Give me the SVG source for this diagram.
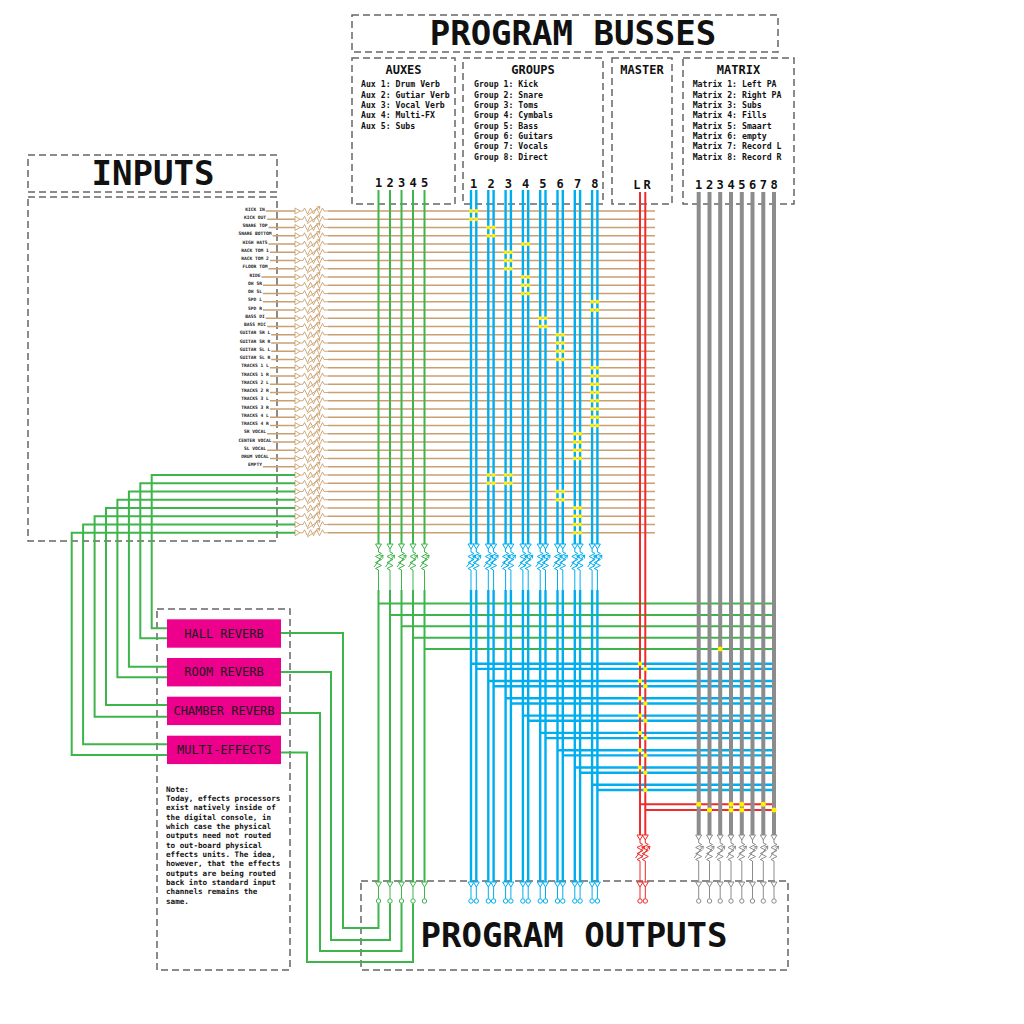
<svg xmlns="http://www.w3.org/2000/svg" xmlns:xlink="http://www.w3.org/1999/xlink" width="1024" height="1024" viewBox="0 0 1024 1024">
<style>
.box{fill:none;stroke:#666;stroke-width:1.5;stroke-dasharray:7 4}
.t{font-family:'DejaVu Sans Mono','Liberation Mono',monospace;fill:#111}
.big{font-size:34px;font-weight:bold;text-anchor:middle}
.hd{font-size:12px;font-weight:bold;text-anchor:middle}
.num{font-size:12px;font-weight:bold;text-anchor:middle}
.lst{font-size:8.2px;font-weight:bold}
.lbl{font-size:4.6px;font-weight:bold;text-anchor:middle;fill:#222}
.fx{fill:#ec008c}
.fxt{font-size:12px;text-anchor:middle;fill:#1a1a1a}
.note{font-size:7.6px;font-weight:bold}
.g{fill:none;stroke:#3db54a;stroke-width:2}
.b{fill:none;stroke:#00adef;stroke-width:2.4}
.r{fill:none;stroke:#ee2a2a;stroke-width:2}
.k{fill:none;stroke:#8c8c8c;stroke-width:4}
.thin{stroke-width:1}
.tan{fill:none;stroke:#c9a06f;stroke-width:1.3}
.dot{fill:#ffef00}
</style>
<defs>
<g id="hf" fill="none" stroke="#c9a06f" stroke-width="0.9">
<path d="M0,-3 V3 L5,0 Z" fill="#fff"/>
<path d="M5,0 H8 L9.5,-3 L12.5,3 L15.5,-3 L18.5,3 L21.5,-3 L24.5,3 L27.5,-3 L29,0 H33"/>
<path d="M12,4.5 L25,-4.5 M25,-4.5 l-3.5,0.6 M25,-4.5 l-1,3.2"/>
</g>
<g id="vf" fill="none" stroke="currentColor" stroke-width="1">
<path d="M-3,0 H3 L0,5 Z" fill="#fff"/>
<path d="M0,5 V8 L3,9.5 L-3,12.5 L3,15.5 L-3,18.5 L3,21.5 L-3,24.5 L0,26 V30"/>
<path d="M-4.5,23 L4.5,11 M4.5,11 l-3.4,1.2 M4.5,11 l-0.3,3.5"/>
</g>
<g id="ot" fill="none" stroke="currentColor" stroke-width="1">
<path d="M-3,0 H3 L0,5 Z" fill="#fff"/>
<path d="M0,5 V16.8"/>
<circle cy="19" r="2.2" fill="#fff"/>
</g>
</defs>
<rect width="1024" height="1024" fill="#fff"/>

<g id="inputs">
<rect class="box" x="28" y="155" width="249" height="37"/>
<text class="t big" x="153" y="185">INPUTS</text>
<rect class="box" x="28" y="197" width="249" height="344"/>
<g class="t lbl">
<text x="255" y="210.5">KICK IN</text>
<text x="255" y="218.75">KICK OUT</text>
<text x="255" y="227">SNARE TOP</text>
<text x="255" y="235.25">SNARE BOTTOM</text>
<text x="255" y="243.5">HIGH HATS</text>
<text x="255" y="251.75">RACK TOM 1</text>
<text x="255" y="260">RACK TOM 2</text>
<text x="255" y="268.25">FLOOR TOM</text>
<text x="255" y="276.5">RIDE</text>
<text x="255" y="284.75">OH SR</text>
<text x="255" y="293">OH SL</text>
<text x="255" y="301.25">SPD L</text>
<text x="255" y="309.5">SPD R</text>
<text x="255" y="317.75">BASS DI</text>
<text x="255" y="326">BASS MIC</text>
<text x="255" y="334.25">GUITAR SR L</text>
<text x="255" y="342.5">GUITAR SR R</text>
<text x="255" y="350.75">GUITAR SL L</text>
<text x="255" y="359">GUITAR SL R</text>
<text x="255" y="367.25">TRACKS 1 L</text>
<text x="255" y="375.5">TRACKS 1 R</text>
<text x="255" y="383.75">TRACKS 2 L</text>
<text x="255" y="392">TRACKS 2 R</text>
<text x="255" y="400.25">TRACKS 3 L</text>
<text x="255" y="408.5">TRACKS 3 R</text>
<text x="255" y="416.75">TRACKS 4 L</text>
<text x="255" y="425">TRACKS 4 R</text>
<text x="255" y="433.25">SR VOCAL</text>
<text x="255" y="441.5">CENTER VOCAL</text>
<text x="255" y="449.75">SL VOCAL</text>
<text x="255" y="458">DRUM VOCAL</text>
<text x="255" y="466.25">EMPTY</text>
</g>
</g>

<g id="program-busses">
<rect class="box" x="352" y="15" width="426" height="37"/>
<text class="t big" x="573" y="45">PROGRAM BUSSES</text>
</g>

<g id="auxes">
<rect class="box" x="352" y="58" width="103" height="146"/>
<text class="t hd" x="403.5" y="74">AUXES</text>
<g class="t lst">
<text x="361" y="87.3">Aux 1: Drum Verb</text>
<text x="361" y="97.6">Aux 2: Gutiar Verb</text>
<text x="361" y="108">Aux 3: Vocal Verb</text>
<text x="361" y="118.3">Aux 4: Multi-FX</text>
<text x="361" y="128.6">Aux 5: Subs</text>
</g>
<g class="t num">
<text x="378.5" y="187">1</text><text x="390" y="187">2</text><text x="401.5" y="187">3</text><text x="413" y="187">4</text><text x="424.5" y="187">5</text>
</g>
</g>

<g id="groups">
<rect class="box" x="463" y="58" width="140" height="146"/>
<text class="t hd" x="533" y="74">GROUPS</text>
<g class="t lst">
<text x="474" y="87.3">Group 1: Kick</text>
<text x="474" y="97.6">Group 2: Snare</text>
<text x="474" y="108">Group 3: Toms</text>
<text x="474" y="118.3">Group 4: Cymbals</text>
<text x="474" y="128.6">Group 5: Bass</text>
<text x="474" y="139">Group 6: Guitars</text>
<text x="474" y="149.3">Group 7: Vocals</text>
<text x="474" y="159.6">Group 8: Direct</text>
</g>
<g class="t num">
<text x="473.6" y="188">1</text><text x="491" y="188">2</text><text x="508.3" y="188">3</text><text x="525.6" y="188">4</text><text x="542.9" y="188">5</text><text x="560.2" y="188">6</text><text x="577.5" y="188">7</text><text x="594.8" y="188">8</text>
</g>
</g>

<g id="master">
<rect class="box" x="612" y="58" width="60" height="146"/>
<text class="t hd" x="642" y="74">MASTER</text>
<text class="t num" x="636.8" y="189">L</text>
<text class="t num" x="647" y="189">R</text>
</g>

<g id="matrix">
<rect class="box" x="683" y="58" width="111" height="146"/>
<text class="t hd" x="738.5" y="74">MATRIX</text>
<g class="t lst">
<text x="692.7" y="87.3">Matrix 1: Left PA</text>
<text x="692.7" y="97.6">Matrix 2: Right PA</text>
<text x="692.7" y="108">Matrix 3: Subs</text>
<text x="692.7" y="118.3">Matrix 4: Fills</text>
<text x="692.7" y="128.6">Matrix 5: Smaart</text>
<text x="692.7" y="139">Matrix 6: empty</text>
<text x="692.7" y="149.3">Matrix 7: Record L</text>
<text x="692.7" y="159.6">Matrix 8: Record R</text>
</g>
<g class="t num">
<text x="698.7" y="189">1</text><text x="709.5" y="189">2</text><text x="720.2" y="189">3</text><text x="731" y="189">4</text><text x="741.8" y="189">5</text><text x="752.5" y="189">6</text><text x="763.3" y="189">7</text><text x="774" y="189">8</text>
</g>
</g>

<g id="program-outputs">
<rect class="box" x="361" y="881" width="427" height="89"/>
<text class="t big" x="574" y="947">PROGRAM OUTPUTS</text>
</g>

<g id="effects">
<rect class="box" x="157" y="609" width="133" height="361"/>
<g id="hall-reverb"><rect class="fx" x="167" y="619.3" width="114" height="28.4"/><text class="t fxt" x="224" y="637.5">HALL REVERB</text></g>
<g id="room-reverb"><rect class="fx" x="167" y="658" width="114" height="28.4"/><text class="t fxt" x="224" y="676.2">ROOM REVERB</text></g>
<g id="chamber-reverb"><rect class="fx" x="167" y="696.7" width="114" height="28.4"/><text class="t fxt" x="224" y="714.9">CHAMBER REVERB</text></g>
<g id="multi-effects"><rect class="fx" x="167" y="735.7" width="114" height="28.4"/><text class="t fxt" x="224" y="753.9">MULTI-EFFECTS</text></g>
<g id="note" class="t note">
<text x="166" y="791.7">Note:</text>
<text x="166" y="801">Today, effects processors</text>
<text x="166" y="810.3">exist natively inside of</text>
<text x="166" y="819.7">the digital console, in</text>
<text x="166" y="829">which case the physical</text>
<text x="166" y="838.3">outputs need not routed</text>
<text x="166" y="847.7">to out-board physical</text>
<text x="166" y="857">effects units. The idea,</text>
<text x="166" y="866.3">however, that the effects</text>
<text x="166" y="875.7">outputs are being routed</text>
<text x="166" y="885">back into standard input</text>
<text x="166" y="894.3">channels remains the</text>
<text x="166" y="903.7">same.</text>
</g>
</g>

<g id="connectors">
<path class="tan" stroke-width="0.9" d="M265.7,211H295M267.1,219.25H295M268.5,227.5H295M272.6,235.75H295M268.5,244H295M269.9,252.25H295M269.9,260.5H295M268.5,268.75H295M261.5,277H295M262.9,285.25H295M262.9,293.5H295M262.9,301.75H295M262.9,310H295M265.7,318.25H295M267.1,326.5H295M271.2,334.75H295M271.2,343H295M271.2,351.25H295M271.2,359.5H295M269.9,367.75H295M269.9,376H295M269.9,384.25H295M269.9,392.5H295M269.9,400.75H295M269.9,409H295M269.9,417.25H295M269.9,425.5H295M267.1,433.75H295M272.6,442H295M267.1,450.25H295M269.9,458.5H295M262.9,466.75H295"/>
<path class="tan" d="M328,211H655M328,219.25H655M328,227.5H655M328,235.75H655M328,244H655M328,252.25H655M328,260.5H655M328,268.75H655M328,277H655M328,285.25H655M328,293.5H655M328,301.75H655M328,310H655M328,318.25H655M328,326.5H655M328,334.75H655M328,343H655M328,351.25H655M328,359.5H655M328,367.75H655M328,376H655M328,384.25H655M328,392.5H655M328,400.75H655M328,409H655M328,417.25H655M328,425.5H655M328,433.75H655M328,442H655M328,450.25H655M328,458.5H655M328,466.75H655M328,475H655M328,483.25H655M328,491.5H655M328,499.75H655M328,508H655M328,516.25H655M328,524.5H655M328,532.75H655"/>
<g>
<use href="#hf" x="295" y="211"/><use href="#hf" x="295" y="219.25"/><use href="#hf" x="295" y="227.5"/><use href="#hf" x="295" y="235.75"/><use href="#hf" x="295" y="244"/><use href="#hf" x="295" y="252.25"/><use href="#hf" x="295" y="260.5"/><use href="#hf" x="295" y="268.75"/><use href="#hf" x="295" y="277"/><use href="#hf" x="295" y="285.25"/><use href="#hf" x="295" y="293.5"/><use href="#hf" x="295" y="301.75"/><use href="#hf" x="295" y="310"/><use href="#hf" x="295" y="318.25"/><use href="#hf" x="295" y="326.5"/><use href="#hf" x="295" y="334.75"/><use href="#hf" x="295" y="343"/><use href="#hf" x="295" y="351.25"/><use href="#hf" x="295" y="359.5"/><use href="#hf" x="295" y="367.75"/><use href="#hf" x="295" y="376"/><use href="#hf" x="295" y="384.25"/><use href="#hf" x="295" y="392.5"/><use href="#hf" x="295" y="400.75"/><use href="#hf" x="295" y="409"/><use href="#hf" x="295" y="417.25"/><use href="#hf" x="295" y="425.5"/><use href="#hf" x="295" y="433.75"/><use href="#hf" x="295" y="442"/><use href="#hf" x="295" y="450.25"/><use href="#hf" x="295" y="458.5"/><use href="#hf" x="295" y="466.75"/><use href="#hf" x="295" y="475"/><use href="#hf" x="295" y="483.25"/><use href="#hf" x="295" y="491.5"/><use href="#hf" x="295" y="499.75"/><use href="#hf" x="295" y="508"/><use href="#hf" x="295" y="516.25"/><use href="#hf" x="295" y="524.5"/><use href="#hf" x="295" y="532.75"/>
</g>
<path class="g" d="M167,628.3H151.7V475H295M167,638.3H140.3V483.25H295M167,666.7H128.9V491.5H295M167,677.3H117.4V499.75H295M167,705H106V508H295M167,716.7H94.6V516.25H295M167,744.3H83.1V524.5H295M167,755H71.7V532.75H295"/>
<path class="g" d="M378.5,903.2V928H343V633H281M390,903.2V940H331V672H281M401.5,903.2V951H320V713H281M413,903.2V962H307V752.5H281"/>
<path class="g" d="M378.5,603.5H775M390,614.9H775M401.5,626.3H775M413,637.7H775M424.5,649.1H775"/>
<path class="b" d="M471,663.7H775M476.3,668.9H775M488.3,681H775M493.6,686.2H775M505.6,698.3H775M510.9,703.5H775M522.9,715.6H775M528.2,720.8H775M540.2,732.9H775M545.5,738.1H775M557.5,750.2H775M562.8,755.4H775M574.8,767.5H775M580.1,772.7H775M592.1,784.8H775M597.4,790H775"/>
<path class="r" d="M640,804.3H775M645.3,810H775"/>
<path class="g" d="M378.5,190V544M378.5,590V882M390,190V544M390,590V882M401.5,190V544M401.5,590V882M413,190V544M413,590V882M424.5,190V544M424.5,590V882"/>
<path class="g thin" d="M378.5,574V590M390,574V590M401.5,574V590M413,574V590M424.5,574V590"/>
<path class="b" d="M471,190V544M471,590V882M476.3,190V544M476.3,590V882M488.3,190V544M488.3,590V882M493.6,190V544M493.6,590V882M505.6,190V544M505.6,590V882M510.9,190V544M510.9,590V882M522.9,190V544M522.9,590V882M528.2,190V544M528.2,590V882M540.2,190V544M540.2,590V882M545.5,190V544M545.5,590V882M557.5,190V544M557.5,590V882M562.8,190V544M562.8,590V882M574.8,190V544M574.8,590V882M580.1,190V544M580.1,590V882M592.1,190V544M592.1,590V882M597.4,190V544M597.4,590V882"/>
<path class="b thin" d="M471,574V590M476.3,574V590M488.3,574V590M493.6,574V590M505.6,574V590M510.9,574V590M522.9,574V590M528.2,574V590M540.2,574V590M545.5,574V590M557.5,574V590M562.8,574V590M574.8,574V590M580.1,574V590M592.1,574V590M597.4,574V590"/>
<path class="r" d="M640,192V835M645.3,192V835"/>
<path class="r thin" d="M640,865V882M645.3,865V882"/>
<path class="k" d="M698.7,192V835M709.5,192V835M720.2,192V835M731,192V835M741.8,192V835M752.5,192V835M763.3,192V835M774,192V835"/>
<path class="k thin" d="M698.7,865V882M709.5,865V882M720.2,865V882M731,865V882M741.8,865V882M752.5,865V882M763.3,865V882M774,865V882"/>
<g style="color:#3db54a">
<use href="#vf" x="378.5" y="544"/><use href="#vf" x="390" y="544"/><use href="#vf" x="401.5" y="544"/><use href="#vf" x="413" y="544"/><use href="#vf" x="424.5" y="544"/>
<use href="#ot" x="378.5" y="882"/><use href="#ot" x="390" y="882"/><use href="#ot" x="401.5" y="882"/><use href="#ot" x="413" y="882"/><use href="#ot" x="424.5" y="882"/>
</g>
<g style="color:#00adef">
<use href="#vf" x="471" y="544"/><use href="#vf" x="476.3" y="544"/><use href="#vf" x="488.3" y="544"/><use href="#vf" x="493.6" y="544"/><use href="#vf" x="505.6" y="544"/><use href="#vf" x="510.9" y="544"/><use href="#vf" x="522.9" y="544"/><use href="#vf" x="528.2" y="544"/><use href="#vf" x="540.2" y="544"/><use href="#vf" x="545.5" y="544"/><use href="#vf" x="557.5" y="544"/><use href="#vf" x="562.8" y="544"/><use href="#vf" x="574.8" y="544"/><use href="#vf" x="580.1" y="544"/><use href="#vf" x="592.1" y="544"/><use href="#vf" x="597.4" y="544"/>
<use href="#ot" x="471" y="882"/><use href="#ot" x="476.3" y="882"/><use href="#ot" x="488.3" y="882"/><use href="#ot" x="493.6" y="882"/><use href="#ot" x="505.6" y="882"/><use href="#ot" x="510.9" y="882"/><use href="#ot" x="522.9" y="882"/><use href="#ot" x="528.2" y="882"/><use href="#ot" x="540.2" y="882"/><use href="#ot" x="545.5" y="882"/><use href="#ot" x="557.5" y="882"/><use href="#ot" x="562.8" y="882"/><use href="#ot" x="574.8" y="882"/><use href="#ot" x="580.1" y="882"/><use href="#ot" x="592.1" y="882"/><use href="#ot" x="597.4" y="882"/>
</g>
<g style="color:#ee2a2a">
<use href="#vf" x="640" y="835"/><use href="#vf" x="645.3" y="835"/>
<use href="#ot" x="640" y="882"/><use href="#ot" x="645.3" y="882"/>
</g>
<g style="color:#8c8c8c">
<use href="#vf" x="698.7" y="835"/><use href="#vf" x="709.5" y="835"/><use href="#vf" x="720.2" y="835"/><use href="#vf" x="731" y="835"/><use href="#vf" x="741.8" y="835"/><use href="#vf" x="752.5" y="835"/><use href="#vf" x="763.3" y="835"/><use href="#vf" x="774" y="835"/>
<use href="#ot" x="698.7" y="882"/><use href="#ot" x="709.5" y="882"/><use href="#ot" x="720.2" y="882"/><use href="#ot" x="731" y="882"/><use href="#ot" x="741.8" y="882"/><use href="#ot" x="752.5" y="882"/><use href="#ot" x="763.3" y="882"/><use href="#ot" x="774" y="882"/>
</g>
<g class="dot">
<circle cx="471" cy="211" r="2"/><circle cx="476.3" cy="211" r="2"/><circle cx="471" cy="219.25" r="2"/><circle cx="476.3" cy="219.25" r="2"/>
<circle cx="488.3" cy="227.5" r="2"/><circle cx="493.6" cy="227.5" r="2"/><circle cx="488.3" cy="235.75" r="2"/><circle cx="493.6" cy="235.75" r="2"/><circle cx="488.3" cy="475" r="2"/><circle cx="493.6" cy="475" r="2"/><circle cx="488.3" cy="483.25" r="2"/><circle cx="493.6" cy="483.25" r="2"/>
<circle cx="505.6" cy="252.25" r="2"/><circle cx="510.9" cy="252.25" r="2"/><circle cx="505.6" cy="260.5" r="2"/><circle cx="510.9" cy="260.5" r="2"/><circle cx="505.6" cy="268.75" r="2"/><circle cx="510.9" cy="268.75" r="2"/><circle cx="505.6" cy="475" r="2"/><circle cx="510.9" cy="475" r="2"/><circle cx="505.6" cy="483.25" r="2"/><circle cx="510.9" cy="483.25" r="2"/>
<circle cx="522.9" cy="244" r="2"/><circle cx="528.2" cy="244" r="2"/><circle cx="522.9" cy="277" r="2"/><circle cx="528.2" cy="277" r="2"/><circle cx="522.9" cy="285.25" r="2"/><circle cx="528.2" cy="285.25" r="2"/><circle cx="522.9" cy="293.5" r="2"/><circle cx="528.2" cy="293.5" r="2"/>
<circle cx="540.2" cy="318.25" r="2"/><circle cx="545.5" cy="318.25" r="2"/><circle cx="540.2" cy="326.5" r="2"/><circle cx="545.5" cy="326.5" r="2"/>
<circle cx="557.5" cy="334.75" r="2"/><circle cx="562.8" cy="334.75" r="2"/><circle cx="557.5" cy="343" r="2"/><circle cx="562.8" cy="343" r="2"/><circle cx="557.5" cy="351.25" r="2"/><circle cx="562.8" cy="351.25" r="2"/><circle cx="557.5" cy="359.5" r="2"/><circle cx="562.8" cy="359.5" r="2"/><circle cx="557.5" cy="491.5" r="2"/><circle cx="562.8" cy="491.5" r="2"/><circle cx="557.5" cy="499.75" r="2"/><circle cx="562.8" cy="499.75" r="2"/>
<circle cx="574.8" cy="433.75" r="2"/><circle cx="580.1" cy="433.75" r="2"/><circle cx="574.8" cy="442" r="2"/><circle cx="580.1" cy="442" r="2"/><circle cx="574.8" cy="450.25" r="2"/><circle cx="580.1" cy="450.25" r="2"/><circle cx="574.8" cy="458.5" r="2"/><circle cx="580.1" cy="458.5" r="2"/><circle cx="574.8" cy="508" r="2"/><circle cx="580.1" cy="508" r="2"/><circle cx="574.8" cy="516.25" r="2"/><circle cx="580.1" cy="516.25" r="2"/><circle cx="574.8" cy="524.5" r="2"/><circle cx="580.1" cy="524.5" r="2"/><circle cx="574.8" cy="532.75" r="2"/><circle cx="580.1" cy="532.75" r="2"/>
<circle cx="592.1" cy="301.75" r="2"/><circle cx="597.4" cy="301.75" r="2"/><circle cx="592.1" cy="310" r="2"/><circle cx="597.4" cy="310" r="2"/><circle cx="592.1" cy="367.75" r="2"/><circle cx="597.4" cy="367.75" r="2"/><circle cx="592.1" cy="376" r="2"/><circle cx="597.4" cy="376" r="2"/><circle cx="592.1" cy="384.25" r="2"/><circle cx="597.4" cy="384.25" r="2"/><circle cx="592.1" cy="392.5" r="2"/><circle cx="597.4" cy="392.5" r="2"/><circle cx="592.1" cy="400.75" r="2"/><circle cx="597.4" cy="400.75" r="2"/><circle cx="592.1" cy="409" r="2"/><circle cx="597.4" cy="409" r="2"/><circle cx="592.1" cy="417.25" r="2"/><circle cx="597.4" cy="417.25" r="2"/><circle cx="592.1" cy="425.5" r="2"/><circle cx="597.4" cy="425.5" r="2"/>
<circle cx="640" cy="663.7" r="2.2"/><circle cx="640" cy="681" r="2.2"/><circle cx="640" cy="698.3" r="2.2"/><circle cx="640" cy="715.6" r="2.2"/><circle cx="640" cy="732.9" r="2.2"/><circle cx="640" cy="750.2" r="2.2"/><circle cx="640" cy="767.5" r="2.2"/>
<circle cx="645.3" cy="668.9" r="2.2"/><circle cx="645.3" cy="686.2" r="2.2"/><circle cx="645.3" cy="703.5" r="2.2"/><circle cx="645.3" cy="720.8" r="2.2"/><circle cx="645.3" cy="738.1" r="2.2"/><circle cx="645.3" cy="755.4" r="2.2"/><circle cx="645.3" cy="772.7" r="2.2"/><circle cx="645.3" cy="790" r="2.2"/>
<circle cx="720.2" cy="649.1" r="2.5"/>
<circle cx="698.7" cy="804.3" r="2.5"/><circle cx="731" cy="804.3" r="2.5"/><circle cx="741.8" cy="804.3" r="2.5"/><circle cx="763.3" cy="804.3" r="2.5"/>
<circle cx="709.5" cy="810" r="2.5"/><circle cx="731" cy="810" r="2.5"/><circle cx="741.8" cy="810" r="2.5"/><circle cx="774" cy="810" r="2.5"/>
</g>
</g>
</svg>
